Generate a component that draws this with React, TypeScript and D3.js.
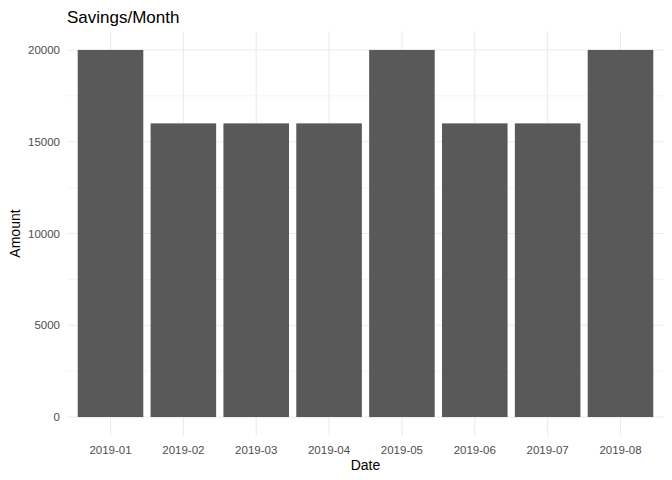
import * as d3 from "d3";

const months = ["2019-01", "2019-02", "2019-03", "2019-04", "2019-05", "2019-06", "2019-07", "2019-08"];
const amounts = [20000, 16000, 16000, 16000, 20000, 16000, 16000, 20000];
const yTicks = [0, 5000, 10000, 15000, 20000];
const yMinor = [2500, 7500, 12500, 17500];

export default function App() {
  const width = 672;
  const height = 480;
  const left = 66.8;
  const right = 664.2;
  const top = 31.6;
  const bottom = 435.4;

  const step = (right - left) / (months.length - 1 + 1.2);
  const x = d3
    .scalePoint<string>()
    .domain(months)
    .range([left + 0.6 * step, right - 0.6 * step]);
  const y = d3.scaleLinear().domain([-1000, 21000]).range([bottom, top]);
  const bw = step * 0.9;

  return (
    <svg width={width} height={height} style={{ position: "absolute", left: 0, top: 0 }} fontFamily="Liberation Sans, Arial, sans-serif">
      <rect width={width} height={height} fill="white" />
      {yMinor.map((t) => (
        <line key={"m" + t} x1={left} x2={right} y1={y(t)} y2={y(t)} stroke="#ebebeb" strokeWidth={0.55} />
      ))}
      {yTicks.map((t) => (
        <line key={"g" + t} x1={left} x2={right} y1={y(t)} y2={y(t)} stroke="#ebebeb" strokeWidth={1.1} />
      ))}
      {months.map((m) => (
        <line key={"v" + m} x1={x(m)!} x2={x(m)!} y1={top} y2={bottom} stroke="#ebebeb" strokeWidth={1.1} />
      ))}
      {months.map((m, i) => (
        <rect key={m} x={x(m)! - bw / 2} y={y(amounts[i])} width={bw} height={y(0) - y(amounts[i])} fill="#595959" />
      ))}
      {yTicks.map((t) => (
        <text key={"t" + t} x={60} y={y(t)} dy="0.35em" textAnchor="end" fontSize={11.5} fill="#4d4d4d">
          {t}
        </text>
      ))}
      {months.map((m) => (
        <text key={"l" + m} x={x(m)!} y={450} dy="0.35em" textAnchor="middle" fontSize={11.5} fill="#4d4d4d">
          {m}
        </text>
      ))}
      <text x={(left + right) / 2} y={470} textAnchor="middle" fontSize={14} fill="black">Date</text>
      <text transform={`translate(20,${(top + bottom) / 2}) rotate(-90)`} textAnchor="middle" fontSize={14} fill="black">Amount</text>
      <text x={67} y={23} fontSize={17} fill="black">Savings/Month</text>
    </svg>
  );
}
